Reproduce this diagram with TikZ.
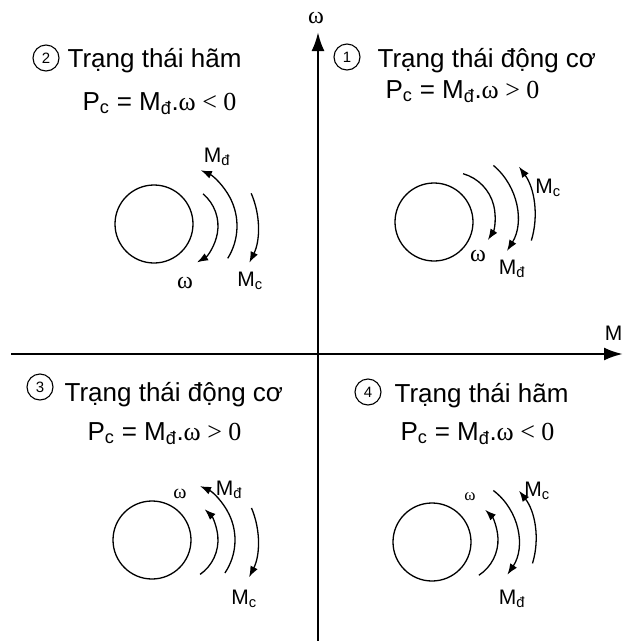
\documentclass[tikz,border=0pt]{standalone}
\usepackage{fontspec}
\setmainfont{Liberation Sans}
\newfontfamily\grk{Liberation Serif}
\usetikzlibrary{arrows.meta}

\tikzset{every picture/.style={line width=1.3pt},
	axisline/.style={line width=2.6pt,-{Latex[length=19pt,width=13pt]}},
	spin/.style={line width=1.3pt,-{Latex[length=11pt,width=8pt]}},
	rotor/.style={circle,draw,line width=1.3pt,minimum size=78pt,inner sep=0pt},
	numc/.style={circle,draw,line width=1.1pt,minimum size=26pt,inner sep=0pt,font=\fontsize{15}{15}\selectfont},
	headtxt/.style={anchor=base west,inner sep=0pt,font=\fontsize{26}{30}\selectfont},
	lab/.style={inner sep=0pt,font=\fontsize{21}{24}\selectfont},
	omlab/.style={inner sep=0pt,font=\grk\fontsize{#1}{#1}\selectfont}}

\begin{document}
\begin{tikzpicture}[x=1pt,y=1pt,yscale=-1,xscale=1]
		\useasboundingbox (0,0) rectangle (623,641); %set diagram size 623 x 641
		
		%Axes
		\coordinate (xl) at (11,354);
		\coordinate (xr) at (623,354);
		\coordinate (yb) at (318,641);
		\coordinate (yt) at (318,32);
		\draw [axisline] (xl) -- (xr) ;
		\draw [axisline] (yb) -- (yt) ;
		% Text Node
		\draw (316,18) node [omlab=24] (lw) {ω};
		% Text Node
		\draw (623,333) node [anchor=east][lab] (lm) {M};
		
		%Quadrant 1
		\draw (347,57) node [numc] (c1) {1};
		\draw (377,67) node [headtxt] (h1) {Trạng thái động cơ};
		\draw (385,98) node [headtxt] (f1) {P\textsubscript{c} = M\textsubscript{đ}.{\grk ω > 0}};
		\draw (434,222) node [rotor] (r1) {};
		\coordinate (o1) at (451,216);
		\draw [spin] (o1) ++(-74:44) arc [start angle=-74,end angle=33,radius=44] ;
		\draw [spin] (o1) ++(-50:66) arc [start angle=-50,end angle=32,radius=66] ;
		\draw [spin] (o1) ++(17:84) arc [start angle=17,end angle=-36,radius=84] ;
		% Text Node
		\draw (548,188) node [lab] (mc1) {M\textsubscript{c}};
		\draw (478,256) node [omlab=24] (w1) {ω};
		\draw (512,269) node [lab] (md1) {M\textsubscript{đ}};
		
		%Quadrant 2
		\draw (46,58) node [numc] (c2) {2};
		\draw (67,67) node [headtxt] (h2) {Trạng thái hãm};
		\draw (82,110) node [headtxt] (f2) {P\textsubscript{c} = M\textsubscript{đ}.{\grk ω < 0}};
		\draw (154,224) node [rotor] (r2) {};
		\coordinate (o2) at (176,226);
		\draw [spin] (o2) ++(-50:42) arc [start angle=-50,end angle=60,radius=42] ;
		\draw [spin] (o2) ++(32:61) arc [start angle=32,end angle=-66,radius=61] ;
		\draw [spin] (o2) ++(-23.5:82) arc [start angle=-23.5,end angle=26.6,radius=82] ;
		% Text Node
		\draw (217,157) node [lab] (md2) {M\textsubscript{đ}};
		\draw (185,283) node [omlab=24] (w2) {ω};
		\draw (250,281) node [lab] (mc2) {M\textsubscript{c}};
		
		%Quadrant 3
		\draw (40,387) node [numc] (c3) {3};
		\draw (64,401) node [headtxt] (h3) {Trạng thái động cơ};
		\draw (87,440) node [headtxt] (f3) {P\textsubscript{c} = M\textsubscript{đ}.{\grk ω > 0}};
		\draw (152,540) node [rotor] (r3) {};
		\coordinate (o3) at (176,540);
		\draw [spin] (o3) ++(55:42) arc [start angle=55,end angle=-47,radius=42] ;
		\draw [spin] (o3) ++(34:59) arc [start angle=34,end angle=-66,radius=59] ;
		\draw [spin] (o3) ++(-23:82) arc [start angle=-23,end angle=27,radius=82] ;
		% Text Node
		\draw (180,494) node [omlab=20] (w3) {ω};
		\draw (229,490) node [lab] (md3) {M\textsubscript{đ}};
		\draw (244,599) node [lab] (mc3) {M\textsubscript{c}};
		
		%Quadrant 4
		\draw (368,392) node [numc] (c4) {4};
		\draw (394,402) node [headtxt] (h4) {Trạng thái hãm};
		\draw (400,440) node [headtxt] (f4) {P\textsubscript{c} = M\textsubscript{đ}.{\grk ω < 0}};
		\draw (432,542) node [rotor] (r4) {};
		\coordinate (o4) at (456,540);
		\draw [spin] (o4) ++(57:42) arc [start angle=57,end angle=-46,radius=42] ;
		\draw [spin] (o4) ++(-53:62) arc [start angle=-53,end angle=34,radius=62] ;
		\draw [spin] (o4) ++(17:80) arc [start angle=17,end angle=-38,radius=80] ;
		% Text Node
		\draw (470,497) node [omlab=17] (w4) {ω};
		\draw (537,491) node [lab] (mc4) {M\textsubscript{c}};
		\draw (512,599) node [lab] (md4) {M\textsubscript{đ}};
\end{tikzpicture}
\end{document}
